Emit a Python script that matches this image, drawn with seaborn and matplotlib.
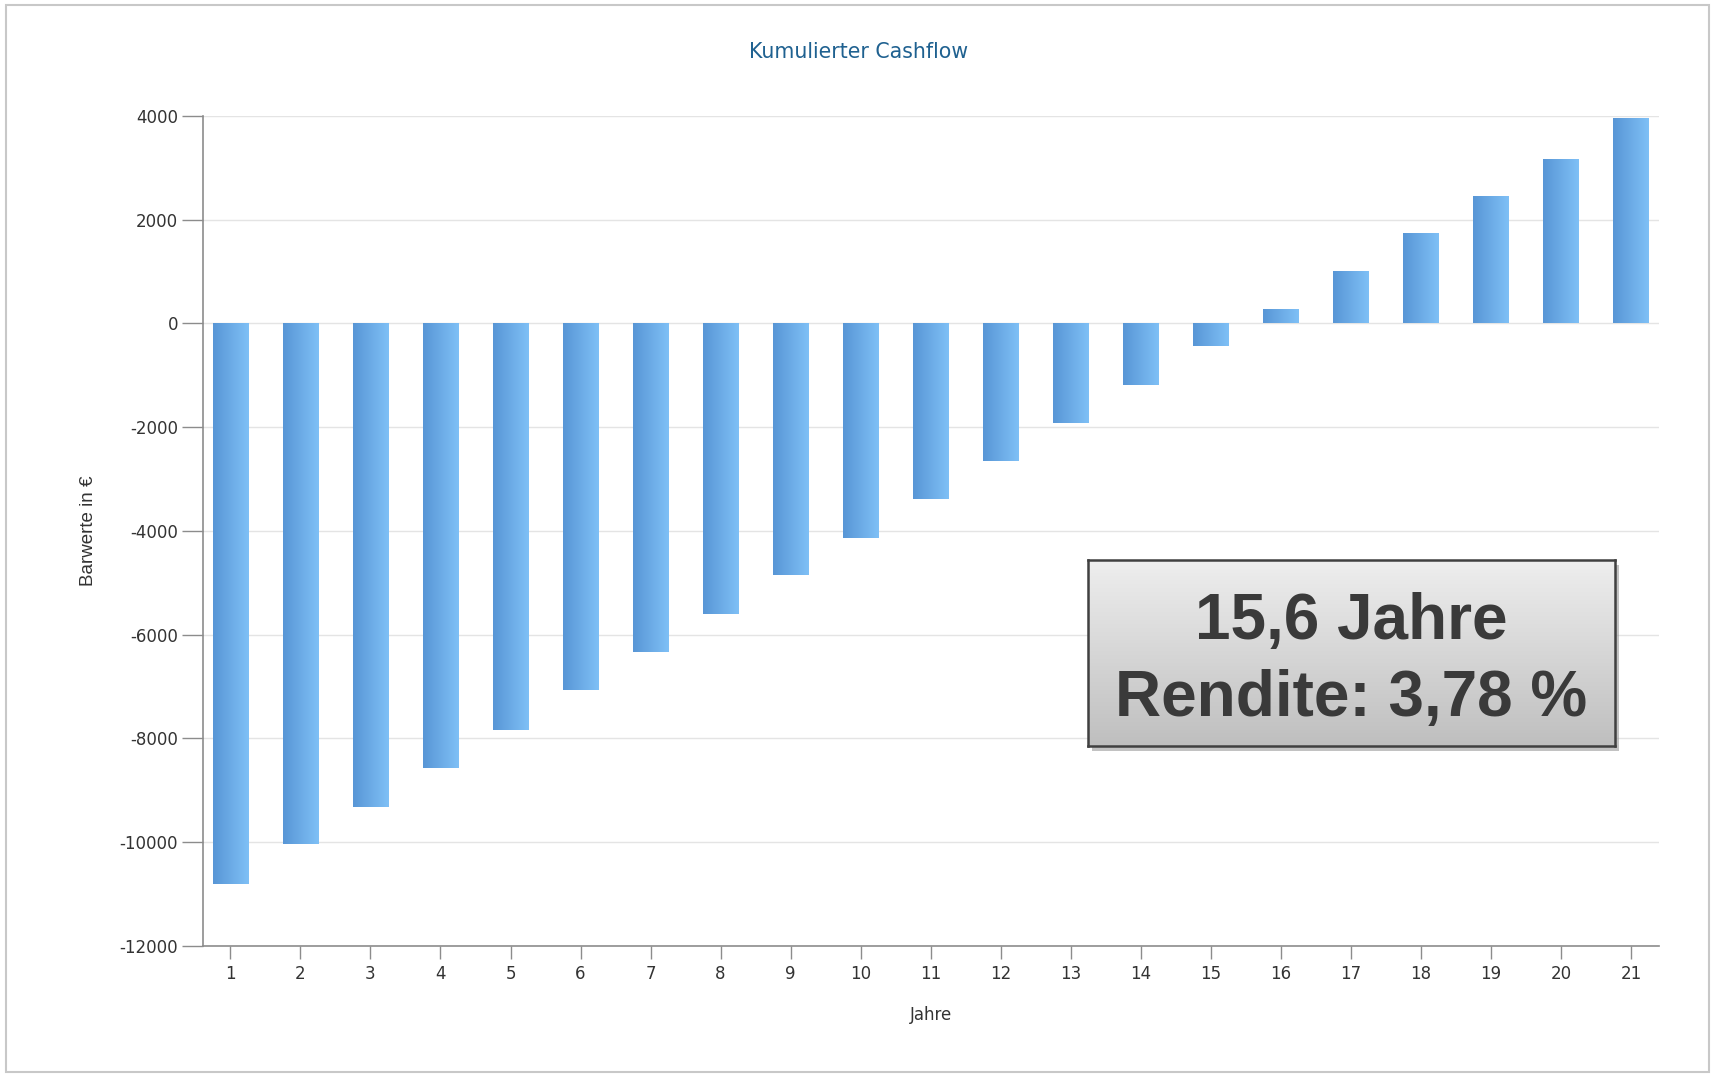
import matplotlib
matplotlib.use("Agg")
import matplotlib.pyplot as plt
import numpy as np
import pandas as pd
import seaborn as sns
from matplotlib.colors import LinearSegmentedColormap
from matplotlib.patches import Rectangle

# values
years = [str(i) for i in range(1, 22)]
cashflow = [-10800, -10040, -9330, -8570, -7830, -7070, -6340, -5600, -4840, -4130,
            -3390, -2650, -1920, -1180, -440, 270, 1010, 1750, 2460, 3180, 3960]
y_ticks = [4000, 2000, 0, -2000, -4000, -6000, -8000, -10000, -12000]

title = "Kumulierter Cashflow"
x_label = "Jahre"
y_label = "Barwerte in €"
box_lines = ["15,6 Jahre", "Rendite: 3,78 %"]

df = pd.DataFrame({"Jahr": years, "Cashflow": cashflow})

sns.set_theme(style="white")
plt.rcParams["font.family"] = ["DejaVu Sans"]

fig = plt.figure(figsize=(17.11, 10.74), dpi=100)
ax = fig.add_axes([0.1187, 0.1192, 0.8509, 0.7728])

sns.barplot(data=df, x="Jahr", y="Cashflow", color="#6aaae6", width=0.5,
            saturation=1, ax=ax, zorder=3)

# horizontal gradient on each bar, darker on the left
bar_cmap = LinearSegmentedColormap.from_list("bar", ["#5896d6", "#7fc0f6"])
grad = np.linspace(0, 1, 64).reshape(1, -1)
for patch in ax.patches:
    x0, y0 = patch.get_x(), patch.get_y()
    w, h = patch.get_width(), patch.get_height()
    im = ax.imshow(grad, cmap=bar_cmap, aspect="auto", zorder=4,
                   extent=[x0, x0 + w, min(y0, y0 + h), max(y0, y0 + h)])
    im.set_clip_path(patch)
    patch.set_edgecolor("none")

ax.set_xlim(-0.39, 20.4)
ax.set_ylim(-12000, 4000)
ax.set_yticks(y_ticks)
ax.set_yticklabels([str(t) for t in y_ticks])
ax.grid(axis="y", color="#e4e4e4", linewidth=1, zorder=0)
ax.set_axisbelow(True)

for side in ["top", "right"]:
    ax.spines[side].set_visible(False)
for side in ["left", "bottom"]:
    ax.spines[side].set_color("#8c8c8c")
    ax.spines[side].set_linewidth(1.2)

ax.tick_params(axis="y", which="major", left=True, length=15, width=1,
               color="#8c8c8c", labelsize=12, labelcolor="#333333", pad=3)
ax.tick_params(axis="x", which="major", bottom=True, length=9, width=1,
               color="#8c8c8c", labelsize=12, labelcolor="#333333", pad=5)

ax.set_xlabel(x_label, fontsize=12, color="#333333", labelpad=16)
ax.set_ylabel(y_label, fontsize=13.5, color="#333333", labelpad=16,
              family=["Liberation Sans", "DejaVu Sans"])

fig.text(0.5017, 0.952, title, ha="center", va="center", fontsize=14.8,
         color="#1f6190")

# outer frame of the screenshot
fig.patches.append(Rectangle((0.0035, 0.002), 0.9955, 0.9935, transform=fig.transFigure,
                             fill=False, edgecolor="#c8c8c8", linewidth=1.5))

# info box with shadow and grey gradient
bx, by, bw, bh = 1088 / 1711, 1 - 746 / 1074, 527 / 1711, 186 / 1074
fig.patches.append(Rectangle((bx + 4 / 1711, by - 5 / 1074), bw, bh,
                             transform=fig.transFigure, facecolor="#9a9a9a",
                             edgecolor="none", alpha=0.6, zorder=5))
box_ax = fig.add_axes([bx, by, bw, bh], zorder=6)
box_cmap = LinearSegmentedColormap.from_list("box", ["#bfbfbf", "#eeeeee"])
box_ax.imshow(np.linspace(0, 1, 128).reshape(-1, 1), cmap=box_cmap, aspect="auto",
              origin="lower", extent=[0, 1, 0, 1])
box_ax.set_xticks([])
box_ax.set_yticks([])
for sp in box_ax.spines.values():
    sp.set_visible(True)
    sp.set_color("#404040")
    sp.set_linewidth(1.8)
box_ax.text(0.5, 0.665, box_lines[0], ha="center", va="center", fontsize=46,
            fontweight="bold", color="#3a3a3a", family=["Liberation Sans", "DejaVu Sans"],
            transform=box_ax.transAxes)
box_ax.text(0.5, 0.255, box_lines[1], ha="center", va="center", fontsize=46,
            fontweight="bold", color="#3a3a3a", family=["Liberation Sans", "DejaVu Sans"],
            transform=box_ax.transAxes)

fig.savefig("out.png", dpi=100)
plt.close(fig)
